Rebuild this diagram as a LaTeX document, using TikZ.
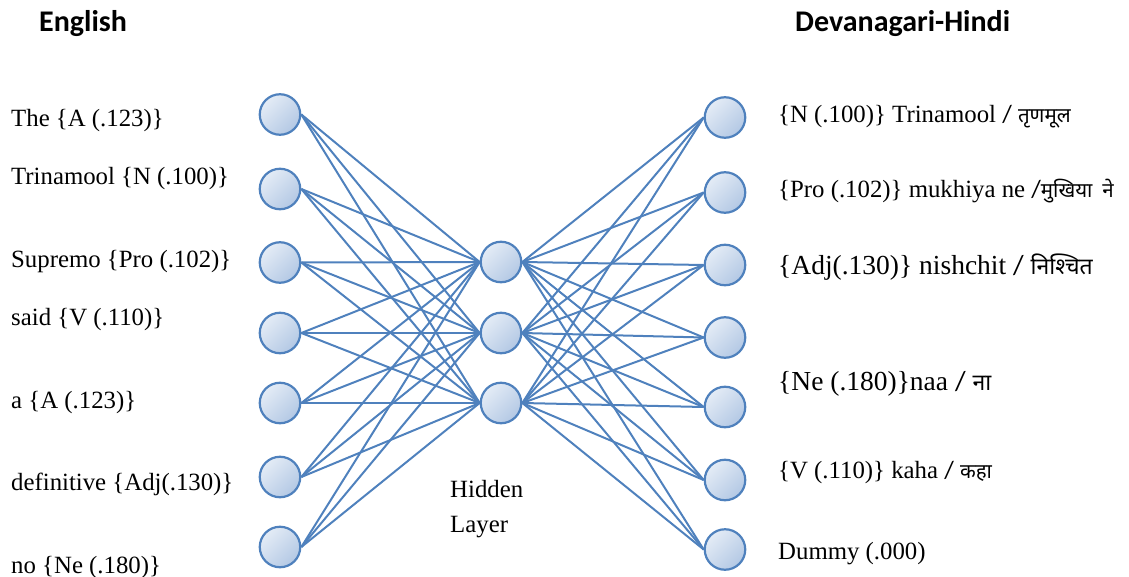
\documentclass[tikz,border=0pt]{standalone}
\usepackage{fontspec}
\setmainfont{Liberation Serif}
\newfontfamily\headfont{Carlito}
\newfontfamily\devfont[Script=Devanagari]{Noto Sans}
\usetikzlibrary{backgrounds}

\definecolor{netblue}{HTML}{4F81BD}
\definecolor{nodelight}{HTML}{E4ECF6}
\definecolor{nodedark}{HTML}{B3C8E4}

% Devanagari words and the sans slash that separates them
\newcommand{\hinw}[2][20.5]{{\devfont\fontsize{#1}{#1}\selectfont #2}}
\newcommand{\sep}{{\headfont /}}

\begin{document}
\begin{tikzpicture}[x=1pt,y=-1pt,
  neuron/.style={circle, draw=netblue, line width=2.2pt, minimum size=40.5pt,
    inner sep=0pt, top color=nodelight, bottom color=nodedark, shading angle=45},
  link/.style={draw=netblue, line width=2pt},
  lbl/.style={anchor=base west, inner sep=0pt, font=\fontsize{24.8}{28}\selectfont},
  biglbl/.style={anchor=base west, inner sep=0pt, font=\fontsize{27.5}{32}\selectfont},
  head/.style={anchor=base west, inner sep=0pt, font=\headfont\bfseries\fontsize{30}{34}\selectfont}]

\useasboundingbox (0,0) rectangle (1129,577);

% headings
\node[head] (hen) at (39,32) {English};
\node[head] (hhi) at (795,32) {Devanagari-Hindi};

% input layer
\foreach \i/\y in {1/114.5,2/189,3/262.5,4/333,5/403,6/477,7/547}
  \node[neuron] (in\i) at (280,\y) {};
% hidden layer
\foreach \i/\y in {1/262,2/333,3/403}
  \node[neuron] (hd\i) at (501,\y) {};
% output layer
\foreach \i/\y in {1/117.5,2/192.5,3/265,4/337.5,5/407,6/480,7/549.5}
  \node[neuron] (out\i) at (725,\y) {};

% full connections
\begin{scope}[on background layer]
  \foreach \i in {1,...,7}
    \foreach \j in {1,2,3} {
      \draw[link] (in\i.east) -- (hd\j.west);
      \draw[link] (hd\j.east) -- (out\i.west);
    }
\end{scope}

% English words
\node[lbl] (w1) at (11,127) {The \{A (.123)\}};
\node[lbl] (w2) at (11,185) {Trinamool \{N (.100)\}};
\node[lbl] (w3) at (11,268) {Supremo \{Pro (.102)\}};
\node[lbl] (w4) at (11,325) {said \{V (.110)\}};
\node[lbl] (w5) at (11,408) {a \{A (.123)\}};
\node[lbl] (w6) at (11,490) {definitive \{Adj(.130)\}};
\node[lbl] (w7) at (11,573) {no \{Ne (.180)\}};

% hidden layer caption
\node[lbl] (hl1) at (450,497) {Hidden};
\node[lbl] (hl2) at (450,532) {Layer};

% Hindi words
\node[lbl] (t1) at (778,123) {\{N (.100)\} Trinamool \sep{} \hinw{तृणमूल}};
\node[lbl] (t2) at (778,198) {\{Pro (.102)\} mukhiya ne \sep\hinw{मुखिया}\hspace{10pt}\hinw{ने}};
\node[biglbl] (t3) at (778,275) {\{Adj(.130)\} nishchit \sep{} \hinw[23]{निश्चित}};
\node[biglbl] (t4) at (778,390) {\{Ne (.180)\}naa \sep{} \hinw[23]{ना}};
\node[lbl] (t5) at (778,478) {\{V (.110)\} kaha \sep{} \hinw{कहा}};
\node[lbl] (t6) at (778,559) {Dummy (.000)};
\end{tikzpicture}
\end{document}
